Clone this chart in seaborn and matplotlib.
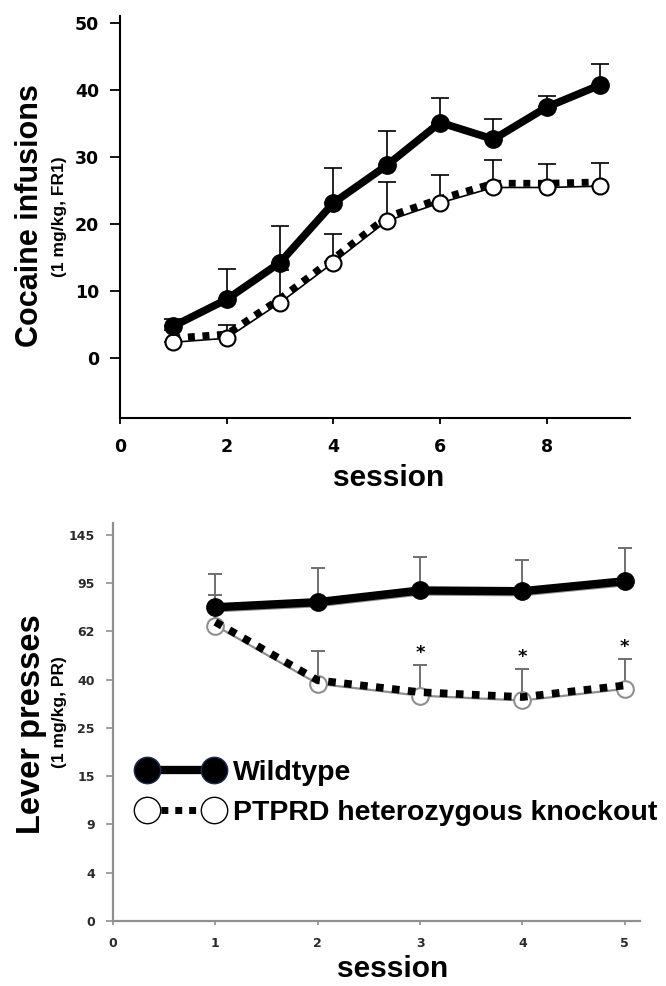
import numpy as np
import matplotlib
matplotlib.use('Agg')
import matplotlib.pyplot as plt
import matplotlib.transforms as mtransforms
from matplotlib.lines import Line2D
import seaborn as sns

# FR1 acquisition (top panel)
fr_sessions = [1, 2, 3, 4, 5, 6, 7, 8, 9]
fr_wt = [4.7, 8.7, 14.2, 23.1, 28.7, 35.1, 32.6, 37.4, 40.7]
fr_wt_top = [5.8, 13.2, 19.7, 28.3, 33.8, 38.7, 35.6, 39.1, 43.8]
fr_ko = [2.3, 2.9, 8.2, 14.2, 20.4, 23.1, 25.4, 25.4, 25.6]
fr_ko_top = [4.2, 4.9, 13.1, 18.5, 26.2, 27.2, 29.5, 28.9, 29.1]

# progressive ratio (bottom panel)
pr_sessions = [1, 2, 3, 4, 5]
pr_wt = [78.5, 82, 90, 89.5, 97]
pr_wt_top = [104, 111, 122, 118.5, 131]
pr_ko = [66, 38.7, 35, 33.5, 37.1]
pr_ko_top = [87, 52.9, 46.8, 44.9, 49.4]
pr_sig = [False, False, True, True, True]
pr_ticks = [0, 4, 9, 15, 25, 40, 62, 95, 145]

legend_labels = ['Wildtype', 'PTPRD heterozygous knockout']

sns.set_style('ticks')
plt.rcParams['font.family'] = ['DejaVu Sans']
plt.rcParams['text.color'] = 'black'
LAB = dict(family='Liberation Sans', weight='bold', color='black')

fig = plt.figure(figsize=(6.66, 9.86), dpi=100)
ax1 = fig.add_axes([0.1802, 0.5761, 0.7658, 0.4077])
ax2 = fig.add_axes([0.1697, 0.0662, 0.7913, 0.4037])


def shifted(ax, pts):
    return ax.transData + mtransforms.ScaledTranslation(0, pts / 72, fig.dpi_scale_trans)


def upper_err(mean, top):
    mean = np.asarray(mean, float)
    return [np.zeros_like(mean), np.asarray(top, float) - mean]


# ---- top panel ----
ax1.errorbar(fr_sessions, fr_wt, yerr=upper_err(fr_wt, fr_wt_top), fmt='none',
             ecolor='black', elinewidth=1.2, capsize=6.5, capthick=1.2, zorder=1)
ax1.errorbar(fr_sessions, fr_ko, yerr=upper_err(fr_ko, fr_ko_top), fmt='none',
             ecolor='black', elinewidth=1.2, capsize=6.5, capthick=1.2, zorder=1)
ax1.plot(fr_sessions, fr_ko, color='black', lw=5, ls=(0, (1, 1.1)),
         transform=shifted(ax1, 3), zorder=2)
sns.lineplot(x=fr_sessions, y=fr_ko, ax=ax1, color='black', lw=1.2, marker='o',
             markersize=11.5, markerfacecolor='white', markeredgecolor='black',
             markeredgewidth=1.5, zorder=3)
sns.lineplot(x=fr_sessions, y=fr_wt, ax=ax1, color='black', lw=5.5, marker='o',
             markersize=12.5, markerfacecolor='black', markeredgecolor='black',
             markeredgewidth=1, zorder=4)

ax1.set_xlim(0, 9.56)
ax1.set_ylim(-9, 51)
ax1.set_xticks([0, 2, 4, 6, 8])
ax1.set_yticks([0, 10, 20, 30, 40, 50])
sns.despine(ax=ax1)
for s in ['left', 'bottom']:
    ax1.spines[s].set_linewidth(1.5)
    ax1.spines[s].set_color('black')
ax1.tick_params(axis='y', length=7, width=1.3, pad=8, labelsize=12.5, colors='black')
ax1.tick_params(axis='x', length=4.5, width=1.3, pad=10, labelsize=12.5, colors='black')
for lab in ax1.get_xticklabels() + ax1.get_yticklabels():
    lab.set_fontweight('bold')
ax1.set_xlabel('')
ax1.set_ylabel('')

# ---- bottom panel: stretched y axis with evenly spaced ticks ----
pos = np.arange(len(pr_ticks), dtype=float)
lo_step = pr_ticks[1] - pr_ticks[0]
hi_step = pr_ticks[-1] - pr_ticks[-2]


def fwd(v):
    v = np.asarray(v, dtype=float)
    out = np.interp(v, pr_ticks, pos)
    out = np.where(v > pr_ticks[-1], pos[-1] + (v - pr_ticks[-1]) / hi_step, out)
    return np.where(v < pr_ticks[0], (v - pr_ticks[0]) / lo_step, out)


def inv(p):
    p = np.asarray(p, dtype=float)
    out = np.interp(p, pos, pr_ticks)
    out = np.where(p > pos[-1], pr_ticks[-1] + (p - pos[-1]) * hi_step, out)
    return np.where(p < 0, pr_ticks[0] + p * lo_step, out)


ax2.set_yscale('function', functions=(fwd, inv))

grey = '#8f8f8f'
ax2.errorbar(pr_sessions, pr_wt, yerr=upper_err(pr_wt, pr_wt_top), fmt='none',
             ecolor='#6f6f6f', elinewidth=1.4, capsize=5, capthick=1.4, zorder=1)
ax2.errorbar(pr_sessions, pr_ko, yerr=upper_err(pr_ko, pr_ko_top), fmt='none',
             ecolor='#6f6f6f', elinewidth=1.4, capsize=5, capthick=1.4, zorder=1)
ax2.plot(pr_sessions, pr_wt, color=grey, lw=1.5, transform=shifted(ax2, -3), zorder=2)
sns.lineplot(x=pr_sessions, y=pr_ko, ax=ax2, color=grey, lw=1.6, marker='o',
             markersize=12, markerfacecolor='white', markeredgecolor=grey,
             markeredgewidth=1.5, zorder=3)
ax2.plot(pr_sessions, pr_ko, color='black', lw=5.5, ls=(0, (1, 1.1)),
         transform=shifted(ax2, 2.5), zorder=3.5)
sns.lineplot(x=pr_sessions, y=pr_wt, ax=ax2, color='black', lw=6, marker='o',
             markersize=12.5, markerfacecolor='black', markeredgecolor='black',
             markeredgewidth=1, zorder=4)

for x, top, sig in zip(pr_sessions, pr_ko_top, pr_sig):
    if sig:
        ax2.annotate('*', xy=(x, top), xytext=(0, 2), textcoords='offset points',
                     ha='center', va='bottom', fontsize=13, fontweight='bold',
                     color='black')

ax2.set_xlim(0, 5.15)
ax2.set_ylim(0, 157.7)
ax2.set_xticks([0, 1, 2, 3, 4, 5])
ax2.set_yticks(pr_ticks)
ax2.set_yticklabels([str(t) for t in pr_ticks])
ax2.minorticks_off()
sns.despine(ax=ax2)
for s in ['left', 'bottom']:
    ax2.spines[s].set_linewidth(1.6)
    ax2.spines[s].set_color(grey)
ax2.tick_params(axis='y', length=5, width=1.2, pad=8, labelsize=9,
                color=grey, labelcolor='#2a2a2a')
ax2.tick_params(axis='x', length=3, width=1.2, pad=9, labelsize=9,
                color=grey, labelcolor='#2a2a2a')
for lab in ax2.get_xticklabels() + ax2.get_yticklabels():
    lab.set_fontweight('bold')
ax2.set_xlabel('')
ax2.set_ylabel('')

h_wt = Line2D([], [], color='black', lw=6, marker='o', markersize=19,
              markerfacecolor='black', markeredgecolor='#1c2b55', markeredgewidth=1)
h_ko = Line2D([], [], color='black', lw=5, ls=(0, (1, 1)), marker='o', markersize=19,
              markerfacecolor='white', markeredgecolor='black', markeredgewidth=1)
leg = ax2.legend([h_wt, h_ko], legend_labels, loc='upper left',
                 bbox_to_anchor=(0.048, 0.405), frameon=False, numpoints=2,
                 handlelength=2.95, handletextpad=0.37, borderpad=0,
                 borderaxespad=0, labelspacing=0.5,
                 prop=dict(family='Liberation Sans', weight='bold', size=20.5))
for t in leg.get_texts():
    t.set_color('black')

# axis titles
fig.text(0.045, 0.781, 'Cocaine infusions', rotation=90, ha='center', va='center',
         fontsize=22, **LAB)
fig.text(0.090, 0.780, '(1 mg/kg, FR1)', rotation=90, ha='center', va='center',
         fontsize=12.5, **LAB)
fig.text(0.048, 0.266, 'Lever presses', rotation=90, ha='center', va='center',
         fontsize=23.5, **LAB)
fig.text(0.090, 0.278, '(1 mg/kg, PR)', rotation=90, ha='center', va='center',
         fontsize=12.5, **LAB)
fig.text(0.583, 0.507, 'session', ha='center', va='baseline', fontsize=21.5, **LAB)
fig.text(0.589, 0.009, 'session', ha='center', va='baseline', fontsize=21.5, **LAB)

fig.savefig('out.png', dpi=100)
